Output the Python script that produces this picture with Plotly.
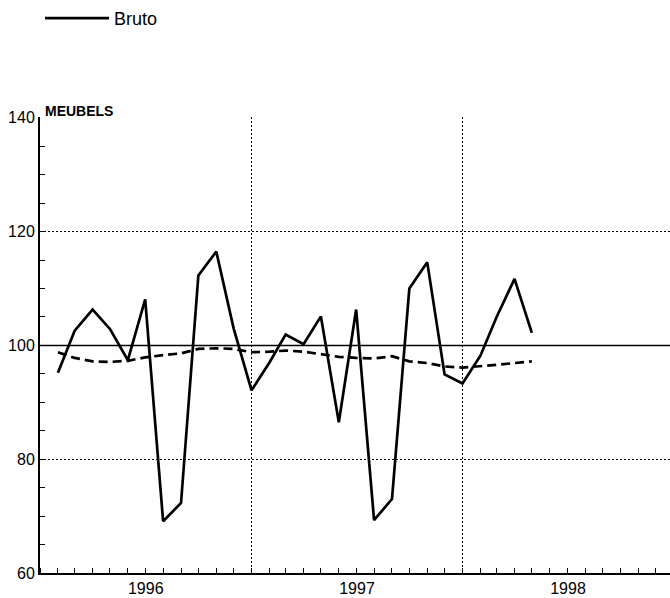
import pandas as pd
import plotly.graph_objects as go

# Monthly observations (plotted at month boundaries, Feb 1996 .. May 1998)
dates = list(pd.date_range("1996-02-01", periods=28, freq="MS"))

bruto = [95.2, 102.6, 106.3, 102.9, 97.4, 108.1, 69.1, 72.3, 112.3, 116.5,
         103.0, 92.1, 97.0, 101.9, 100.2, 105.1, 86.5, 106.3, 69.3, 73.0,
         110.0, 114.6, 94.9, 93.3, 98.2, 105.0, 111.7, 102.2]

trend = [98.8, 97.8, 97.2, 97.1, 97.3, 97.9, 98.3, 98.6, 99.4, 99.5,
         99.4, 98.8, 98.9, 99.1, 98.9, 98.4, 98.0, 97.8, 97.7, 98.1,
         97.2, 96.9, 96.3, 96.1, 96.3, 96.6, 96.9, 97.2]

y_ticks = [60, 80, 100, 120, 140]
title_text = "MEUBELS"

FONT = "Liberation Sans, Arial, Helvetica, sans-serif"
GRID_DASH = "2px,2px"

fig = go.Figure()
fig.add_trace(go.Scatter(x=dates, y=bruto, mode="lines", name="Bruto",
                         line=dict(color="black", width=2.7)))
fig.add_trace(go.Scatter(x=dates, y=trend, mode="lines", name="Trend",
                         showlegend=False,
                         line=dict(color="black", width=2.7, dash="9px,5px")))

# reference line at 100
fig.add_shape(type="line", xref="paper", x0=0, x1=1, yref="y", y0=100, y1=100,
              line=dict(color="black", width=1.5), layer="below")

fig.add_annotation(text=title_text, xref="paper", yref="paper", x=0, y=1,
                   xanchor="left", yanchor="bottom", xshift=3, yshift=-4,
                   showarrow=False,
                   font=dict(family=FONT, size=14, color="black", weight="bold"))

fig.update_layout(
    width=670, height=598,
    margin=dict(l=40, r=0, t=117, b=25, autoexpand=False),
    paper_bgcolor="white", plot_bgcolor="white",
    font=dict(family=FONT, size=16, color="black"),
    showlegend=True,
    legend=dict(orientation="h", x=40 / 670, y=1.0, yref="container",
                xref="container", xanchor="left", yanchor="top",
                itemwidth=64,
                font=dict(size=18), bgcolor="rgba(0,0,0,0)"),
)

fig.update_xaxes(
    type="date",
    range=["1996-01-01", "1998-12-26"],
    tick0="1996-01-01", dtick="M12", tickformat="%Y",
    ticklabelmode="period",
    ticks="inside", ticklen=5, tickcolor="black",
    showgrid=True, gridcolor="black", griddash=GRID_DASH, gridwidth=1,
    showline=True, linecolor="black", linewidth=2,
    minor=dict(dtick="M1", ticks="inside", ticklen=5, tickcolor="black",
               showgrid=False),
    tickfont=dict(size=16),
    automargin=False,
)

fig.update_yaxes(
    range=[60, 140.15], tickvals=y_ticks,
    ticks="inside", ticklen=5, tickcolor="black",
    showgrid=True, gridcolor="black", griddash=GRID_DASH, gridwidth=1,
    showline=True, linecolor="black", linewidth=2,
    zeroline=False,
    minor=dict(dtick=5, ticks="inside", ticklen=5, tickcolor="black",
               showgrid=False),
    tickfont=dict(size=16),
    ticklabelstandoff=0,
    automargin=False,
)

fig.write_html("out.html", config={"displayModeBar": False},
               post_script="document.body.style.margin='0';document.body.style.overflow='hidden';")
